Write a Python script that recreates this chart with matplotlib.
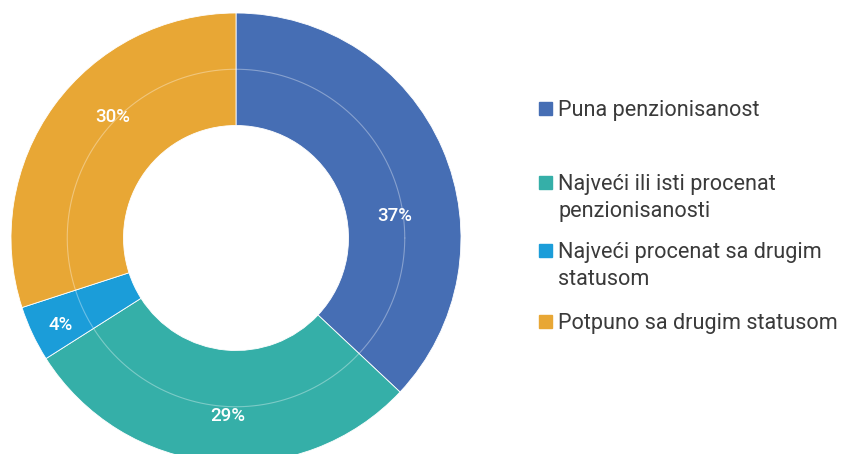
import matplotlib.pyplot as plt
import numpy as np

categories = ['Puna penzionisanost',
              'Najveći ili isti procenat\npenzionisanosti',
              'Najveći procenat sa drugim\nstatusom',
              'Potpuno sa drugim statusom']
values = [37, 29, 4, 30]
colors = ['#466EB4', '#35AFA8', '#1B9DD9', '#E8A735']

# where each percentage label sits (angle in degrees, radius)
label_pos = [(8, 0.71), (-92.6, 0.79), (-153.7, 0.87), (135.5, 0.77)]
# first-line centre of each legend entry (pixels from top)
legend_y = [108, 182, 250, 321]
line_h = 27

W, H = 846, 454
fig = plt.figure(figsize=(W / 100, H / 100), dpi=100)
cx, cy, R = 236, 238, 225
ax = fig.add_axes([(cx - R) / W, (H - cy - R) / H, 2 * R / W, 2 * R / H])

ax.pie(values, colors=colors, startangle=90, counterclock=False, radius=1,
       wedgeprops=dict(width=0.5, edgecolor='white', linewidth=0.6))
ax.set_xlim(-1, 1)
ax.set_ylim(-1, 1)
ax.set_aspect('equal')
ax.axis('off')

# faint inner ring
t = np.linspace(0, 2 * np.pi, 400)
ax.plot(0.75 * np.cos(t), 0.75 * np.sin(t), color='white', alpha=0.35, lw=0.8)

for v, (a, r) in zip(values, label_pos):
    ax.text(r * np.cos(np.radians(a)), r * np.sin(np.radians(a)), f'{v}%',
            ha='center', va='center', color='white', fontsize=13.5,
            family='Roboto', fontweight='medium')

for cat, col, y in zip(categories, colors, legend_y):
    fig.patches.append(plt.Rectangle((539 / W, 1 - (y + 7) / H), 13 / W, 13 / H,
                                     transform=fig.transFigure, color=col))
    for i, ln in enumerate(cat.split('\n')):
        fig.text(558 / W, 1 - (y + i * line_h) / H, ln, ha='left',
                 va='center_baseline', fontsize=15.6, family='Roboto',
                 color='#3a3a3a')

fig.savefig('out.png', dpi=100)
